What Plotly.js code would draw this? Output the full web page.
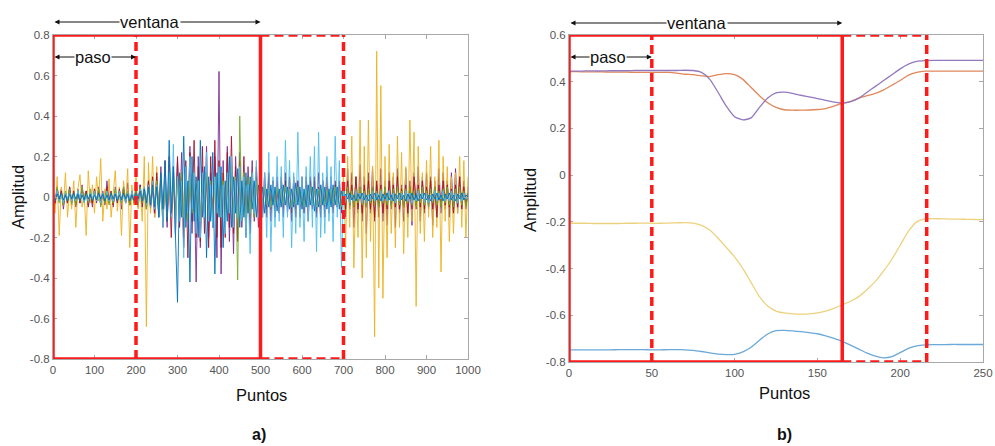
<!DOCTYPE html>
<html>
<head>
<meta charset="utf-8">
<script src="https://cdn.plot.ly/plotly-3.0.1.min.js"></script>
<style>html,body{margin:0;padding:0;background:#fff;}#chart{width:995px;height:446px;}</style>
</head>
<body>
<div id="chart"></div>
<script>
// ---------- Panel a) : raw signals, one value every 5 points (0..1000) ----------
const stepA = 5;
const sigYellow = [
 0.02,-0.08,0.1,-0.19,0.05,-0.04,0.12,-0.1,0.03,-0.06,
 0.08,-0.15,0.04,0.11,-0.05,0.02,-0.19,0.13,-0.03,0.06,
 -0.08,0.1,-0.02,0.19,-0.12,0.04,-0.06,0.09,-0.1,0.03,
 0.13,-0.07,0.05,-0.19,0.08,-0.03,0.14,-0.25,0.06,-0.04,
 0.1,-0.06,0.03,-0.12,0.2,-0.64,0.17,-0.08,0.2,-0.1,
 0.15,-0.09,0.07,-0.12,0.05,-0.08,0.1,-0.05,0.08,-0.1,
 0.06,-0.07,0.12,-0.04,0.08,-0.11,0.05,-0.06,0.09,-0.03,
 0.07,-0.1,0.04,-0.06,0.1,-0.08,0.05,-0.04,0.08,-0.09,
 0.06,-0.05,0.12,-0.1,0.04,-0.07,0.09,-0.05,0.06,-0.08,
 0.05,-0.06,0.08,-0.04,0.07,-0.1,0.05,-0.03,0.06,-0.05,
 0.04,-0.03,0.05,-0.04,0.03,-0.05,0.04,-0.02,0.05,-0.03,
 0.03,-0.04,0.06,-0.03,0.04,-0.05,0.03,-0.04,0.05,-0.03,
 0.04,-0.05,0.03,-0.04,0.06,-0.03,0.04,-0.05,0.03,-0.04,
 0.05,-0.03,0.04,-0.06,0.03,-0.04,0.05,-0.03,0.04,-0.05,
 0.12,-0.25,0.2,-0.15,0.3,-0.35,0.1,-0.2,0.38,-0.4,
 0.25,-0.3,0.38,-0.22,0.15,-0.69,0.72,-0.45,0.55,-0.5,
 0.2,-0.3,0.26,-0.18,0.12,-0.25,0.3,-0.15,0.22,-0.28,
 0.15,-0.2,0.38,-0.12,0.32,-0.54,0.25,-0.18,0.12,-0.22,
 0.18,-0.1,0.25,-0.2,0.1,-0.15,0.28,-0.37,0.2,-0.12,
 0.15,-0.22,0.1,-0.18,0.12,-0.08,0.2,-0.15,0.18,-0.2,
 0.1];
const sigPurple = [
 0.03,-0.04,0.05,-0.02,0.04,-0.06,0.02,-0.03,0.05,-0.04,
 0.02,-0.05,0.04,-0.03,0.06,-0.02,0.03,-0.04,0.02,-0.05,
 0.04,-0.03,0.05,-0.02,0.03,-0.04,0.08,-0.03,0.02,-0.05,
 0.05,-0.02,0.03,-0.06,0.04,-0.03,0.07,-0.04,0.02,-0.03,
 0.04,-0.05,0.06,-0.03,0.05,-0.04,0.08,-0.06,0.04,-0.1,
 0.1,-0.08,0.15,-0.12,0.08,-0.15,0.2,-0.1,0.12,-0.18,
 0.18,-0.1,0.22,-0.2,0.15,-0.12,0.25,-0.18,0.1,-0.42,
 0.2,-0.25,0.15,-0.1,0.25,-0.2,0.12,-0.15,0.2,-0.3,
 0.62,-0.38,0.18,-0.15,0.25,-0.22,0.12,-0.28,0.2,-0.1,
 0.22,-0.15,0.1,-0.2,0.15,-0.08,0.18,-0.12,0.1,-0.15,
 0.08,-0.1,0.12,-0.06,0.1,-0.12,0.08,-0.05,0.1,-0.08,
 0.06,-0.1,0.12,-0.08,0.05,-0.12,0.1,-0.06,0.08,-0.1,
 0.1,-0.08,0.06,-0.12,0.1,-0.05,0.08,-0.1,0.12,-0.06,
 0.08,-0.1,0.05,-0.08,0.1,-0.06,0.08,-0.05,0.06,-0.08,
 0.08,-0.1,0.14,-0.06,0.12,-0.15,0.1,-0.08,0.16,-0.12,
 0.1,-0.18,0.12,-0.08,0.15,-0.12,0.06,-0.1,0.14,-0.12,
 0.08,-0.14,0.12,-0.06,0.1,-0.15,0.14,-0.08,0.06,-0.12,
 0.14,-0.1,0.08,-0.14,0.12,-0.06,0.15,-0.12,0.1,-0.08,
 0.12,-0.06,0.1,-0.14,0.08,-0.1,0.14,-0.08,0.12,-0.06,
 0.08,-0.1,0.12,-0.06,0.14,-0.08,0.1,-0.05,0.08,-0.06,
 0.05];
const sigRed = [
 0.02,-0.03,0.04,-0.02,0.03,-0.04,0.02,-0.03,0.05,-0.02,
 0.03,-0.04,0.02,-0.03,0.04,-0.02,0.03,-0.05,0.02,-0.03,
 0.04,-0.02,0.03,-0.04,0.02,-0.03,0.05,-0.02,0.03,-0.04,
 0.02,-0.03,0.04,-0.02,0.05,-0.03,0.02,-0.04,0.03,-0.02,
 0.04,-0.03,0.06,-0.05,0.04,-0.06,0.08,-0.05,0.1,-0.08,
 0.12,-0.1,0.08,-0.15,0.18,-0.12,0.1,-0.2,0.15,-0.1,
 0.2,-0.15,0.12,-0.25,0.18,-0.3,0.22,-0.12,0.28,-0.2,
 0.15,-0.22,0.25,-0.18,0.12,-0.25,0.2,-0.15,0.28,-0.2,
 0.18,-0.25,0.12,-0.2,0.22,-0.15,0.3,-0.18,0.15,-0.22,
 0.18,-0.12,0.2,-0.15,0.1,-0.18,0.12,-0.1,0.15,-0.08,
 0.1,-0.08,0.06,-0.1,0.12,-0.06,0.08,-0.1,0.05,-0.08,
 0.1,-0.06,0.08,-0.05,0.1,-0.08,0.06,-0.1,0.08,-0.05,
 0.06,-0.08,0.1,-0.05,0.08,-0.06,0.1,-0.08,0.05,-0.1,
 0.08,-0.05,0.1,-0.06,0.05,-0.08,0.06,-0.05,0.08,-0.06,
 0.05,-0.06,0.08,-0.04,0.06,-0.05,0.1,-0.06,0.05,-0.08,
 0.06,-0.05,0.08,-0.06,0.05,-0.1,0.08,-0.05,0.06,-0.08,
 0.05,-0.06,0.08,-0.04,0.06,-0.05,0.1,-0.06,0.04,-0.05,
 0.06,-0.08,0.05,-0.06,0.1,-0.04,0.06,-0.05,0.08,-0.06,
 0.05,-0.04,0.08,-0.06,0.05,-0.1,0.06,-0.05,0.08,-0.04,
 0.06,-0.05,0.04,-0.08,0.06,-0.05,0.1,-0.06,0.05,-0.04,
 0.02];
const sigGreen = [
 0.03,-0.02,0.05,-0.03,0.02,-0.04,0.03,-0.02,0.04,-0.03,
 0.02,-0.04,0.03,-0.02,0.05,-0.03,0.02,-0.03,0.04,-0.02,
 0.03,-0.02,0.04,-0.05,0.02,-0.03,0.03,-0.04,0.02,-0.03,
 0.04,-0.02,0.03,-0.03,0.05,-0.02,0.03,-0.04,0.02,-0.03,
 0.03,-0.04,0.05,-0.03,0.04,-0.06,0.05,-0.04,0.06,-0.05,
 0.08,-0.06,0.1,-0.08,0.06,-0.1,0.12,-0.07,0.09,-0.1,
 0.1,-0.08,0.12,-0.1,0.08,-0.12,0.1,-0.08,0.12,-0.1,
 0.08,-0.12,0.1,-0.06,0.12,-0.1,0.08,-0.12,0.1,-0.08,
 0.12,-0.1,0.08,-0.12,0.1,-0.08,0.15,-0.12,0.1,-0.41,
 0.4,-0.1,0.12,-0.15,0.1,-0.08,0.12,-0.1,0.08,-0.06,
 0.05,-0.04,0.06,-0.03,0.04,-0.05,0.03,-0.04,0.05,-0.03,
 0.04,-0.03,0.05,-0.04,0.03,-0.05,0.04,-0.03,0.05,-0.04,
 0.03,-0.05,0.04,-0.03,0.05,-0.04,0.03,-0.05,0.04,-0.03,
 0.05,-0.04,0.03,-0.05,0.04,-0.03,0.05,-0.04,0.03,-0.05,
 0.04,-0.03,0.05,-0.04,0.03,-0.05,0.04,-0.03,0.05,-0.04,
 0.03,-0.05,0.04,-0.03,0.05,-0.04,0.03,-0.05,0.04,-0.03,
 0.05,-0.04,0.03,-0.05,0.04,-0.03,0.05,-0.04,0.03,-0.05,
 0.04,-0.03,0.05,-0.04,0.03,-0.05,0.04,-0.03,0.05,-0.04,
 0.03,-0.05,0.04,-0.03,0.05,-0.04,0.03,-0.05,0.04,-0.03,
 0.05,-0.04,0.03,-0.05,0.04,-0.03,0.05,-0.04,0.03,-0.05,
 0.02];
const sigCyan = [
 0.02,-0.01,0.03,-0.02,0.01,-0.03,0.02,-0.01,0.02,-0.02,
 0.01,-0.02,0.03,-0.01,0.02,-0.03,0.01,-0.02,0.02,-0.01,
 0.03,-0.02,0.01,-0.03,0.02,-0.01,0.03,-0.02,0.01,-0.02,
 0.02,-0.01,0.03,-0.02,0.01,-0.03,0.02,-0.02,0.03,-0.01,
 0.02,-0.03,0.04,-0.02,0.05,-0.04,0.06,-0.05,0.08,-0.06,
 0.06,-0.1,0.05,-0.15,0.1,-0.06,0.12,-0.1,0.26,-0.2,
 0.1,-0.12,0.08,-0.3,0.15,-0.08,0.2,-0.06,0.12,-0.18,
 0.08,-0.2,0.12,-0.1,0.22,-0.12,0.06,-0.15,0.1,-0.08,
 0.15,-0.1,0.06,-0.18,0.12,-0.08,0.2,-0.15,0.08,-0.1,
 0.15,-0.12,0.1,-0.2,0.06,-0.28,0.12,-0.08,0.18,-0.1,
 0.15,-0.1,0.12,-0.2,0.22,-0.27,0.1,-0.15,0.2,-0.12,
 0.15,-0.2,0.28,-0.1,0.18,-0.25,0.12,-0.18,0.32,-0.15,
 0.1,-0.22,0.15,-0.12,0.2,-0.15,0.25,-0.27,0.32,-0.2,
 0.12,-0.18,0.2,-0.12,0.15,-0.22,0.3,-0.1,0.18,-0.35,
 0.03,-0.02,0.02,-0.03,0.01,-0.02,0.03,-0.01,0.02,-0.03,
 0.02,-0.03,0.01,-0.02,0.03,-0.02,0.02,-0.01,0.03,-0.02,
 0.01,-0.02,0.03,-0.02,0.02,-0.03,0.01,-0.02,0.02,-0.01,
 0.03,-0.02,0.02,-0.03,0.01,-0.02,0.03,-0.01,0.02,-0.03,
 0.02,-0.03,0.01,-0.02,0.03,-0.02,0.02,-0.01,0.03,-0.02,
 0.01,-0.02,0.03,-0.02,0.02,-0.03,0.01,-0.02,0.02,-0.01,
 0];
const sigBlue = [
 0.01,-0.02,0.015,-0.01,0.02,-0.015,0.01,-0.02,0.015,-0.01,
 0.02,-0.01,0.015,-0.02,0.01,-0.015,0.02,-0.01,0.015,-0.02,
 0.01,-0.015,0.02,-0.01,0.015,-0.02,0.01,-0.015,0.02,-0.01,
 0.015,-0.02,0.01,-0.015,0.02,-0.01,0.015,-0.02,0.01,-0.015,
 0.02,-0.01,0.03,-0.02,0.04,-0.03,0.05,-0.04,0.06,-0.05,
 0.05,-0.1,0.12,-0.06,0.18,-0.12,0.28,-0.08,0.15,-0.22,
 -0.52,0.12,-0.1,0.3,-0.15,0.08,-0.42,0.2,-0.12,0.1,
 -0.2,0.28,-0.1,0.15,-0.3,0.1,-0.12,0.22,-0.38,0.12,
 -0.1,0.15,-0.25,0.08,-0.12,0.2,-0.15,0.1,-0.08,0.14,
 -0.15,0.08,-0.1,0.12,-0.08,0.1,-0.06,0.08,-0.1,0.06,
 -0.06,0.05,-0.08,0.04,-0.05,0.06,-0.04,0.05,-0.07,0.04,
 -0.05,0.06,-0.04,0.05,-0.06,0.04,-0.05,0.07,-0.04,0.05,
 -0.06,0.04,-0.05,0.06,-0.04,0.05,-0.07,0.04,-0.05,0.06,
 -0.04,0.05,-0.06,0.04,-0.05,0.06,-0.04,0.05,-0.06,0.03,
 -0.02,0.015,-0.01,0.02,-0.015,0.01,-0.02,0.015,-0.01,0.02,
 -0.015,0.01,-0.02,0.015,-0.01,0.02,-0.015,0.01,-0.02,0.015,
 -0.01,0.02,-0.015,0.01,-0.02,0.015,-0.01,0.02,-0.015,0.01,
 -0.02,0.015,-0.01,0.02,-0.015,0.01,-0.02,0.015,-0.01,0.02,
 -0.015,0.01,-0.02,0.015,-0.01,0.02,-0.015,0.01,-0.02,0.015,
 -0.01,0.02,-0.015,0.01,-0.02,0.015,-0.01,0.02,-0.015,0.01,
 0];

// ---------- Panel b) : smoothed features, one value every 5 points (0..250) ----------
const stepB = 5;
const featPurple = [
 0.445,0.445,0.446,0.446,0.446,0.447,0.447,0.447,0.448,0.448,
 0.448,0.448,0.448,0.448,0.449,0.448,0.44,0.41,0.355,0.295,
 0.25,0.237,0.245,0.29,0.33,0.352,0.355,0.35,0.342,0.335,
 0.328,0.32,0.313,0.308,0.315,0.33,0.355,0.38,0.405,0.43,
 0.455,0.475,0.487,0.49,0.491,0.491,0.491,0.491,0.491,0.491,
 0.491];
const featOrange = [
 0.443,0.443,0.442,0.442,0.442,0.441,0.441,0.441,0.44,0.44,
 0.44,0.44,0.44,0.437,0.432,0.43,0.425,0.422,0.43,0.435,
 0.43,0.41,0.375,0.34,0.31,0.29,0.28,0.278,0.278,0.279,
 0.281,0.285,0.295,0.308,0.315,0.33,0.34,0.35,0.365,0.385,
 0.405,0.428,0.44,0.445,0.445,0.445,0.445,0.445,0.445,0.445,
 0.445];
const featYellow = [
 -0.205,-0.206,-0.206,-0.207,-0.207,-0.207,-0.207,-0.206,-0.206,-0.205,
 -0.206,-0.206,-0.205,-0.204,-0.203,-0.205,-0.215,-0.235,-0.27,-0.31,
 -0.35,-0.4,-0.46,-0.52,-0.56,-0.582,-0.59,-0.594,-0.595,-0.594,
 -0.59,-0.582,-0.57,-0.555,-0.54,-0.52,-0.49,-0.455,-0.41,-0.36,
 -0.3,-0.24,-0.2,-0.187,-0.186,-0.187,-0.188,-0.188,-0.189,-0.19,
 -0.19];
const featBlue = [
 -0.748,-0.748,-0.748,-0.748,-0.748,-0.748,-0.747,-0.747,-0.747,-0.747,
 -0.748,-0.748,-0.747,-0.747,-0.748,-0.75,-0.755,-0.761,-0.766,-0.768,
 -0.767,-0.757,-0.737,-0.707,-0.68,-0.666,-0.665,-0.667,-0.67,-0.674,
 -0.679,-0.688,-0.699,-0.712,-0.728,-0.745,-0.762,-0.775,-0.782,-0.777,
 -0.76,-0.742,-0.731,-0.727,-0.726,-0.726,-0.725,-0.725,-0.725,-0.725,
 -0.725];

// tick labels
const xTicksA = [0,100,200,300,400,500,600,700,800,900,1000];
const yTicksA = [-0.8,-0.6,-0.4,-0.2,0,0.2,0.4,0.6,0.8];
const yTextA = ['-0.8','-0.6','-0.4','-0.2','0','0.2','0.4','0.6','0.8'];
const xTicksB = [0,50,100,150,200,250];
const yTicksB = [-0.8,-0.6,-0.4,-0.2,0,0.2,0.4,0.6];
const yTextB = ['-0.8','-0.6','-0.4','-0.2','0','0.2','0.4','0.6'];

// window markers (data units)
const winA = {start:0, step:200, end:500, next:700, ymin:-0.8, ymax:0.8};
const winB = {start:0, step:50, end:165, next:216, ymin:-0.8, ymax:0.6};

const xs = (arr, st) => arr.map((_, i) => i * st);

const colA = {y:'#EDB120', p:'#7E2F8E', r:'#A2142F', g:'#77AC30', c:'#4DBEEE', b:'#0072BD'};
const tracesA = [
  [sigPurple, colA.p], [sigYellow, colA.y], [sigRed, colA.r],
  [sigGreen, colA.g], [sigCyan, colA.c], [sigBlue, colA.b]
].map(([v, c]) => ({
  x: xs(v, stepA), y: v, type: 'scatter', mode: 'lines',
  line: {color: c, width: 1}, opacity: 0.9, xaxis: 'x', yaxis: 'y', hoverinfo: 'skip'
}));

const tracesB = [
  [featBlue, '#6aa9d8'], [featOrange, '#e0875c'], [featYellow, '#ecd27e'], [featPurple, '#9478bd']
].map(([v, c]) => ({
  x: xs(v, stepB), y: v, type: 'scatter', mode: 'lines',
  line: {color: c, width: 1.3, shape: 'spline', smoothing: 0.6}, xaxis: 'x2', yaxis: 'y2', hoverinfo: 'skip'
}));

const RED = '#ff1a1a';
function windowShapes(w, xr, yr) {
  const solid = {color: RED, width: 3.5};
  const dashed = {color: RED, width: 3.5, dash: '9px,5px'};
  return [
    {type:'rect', xref:xr, yref:yr, x0:w.start, x1:w.end, y0:w.ymin, y1:w.ymax, line:solid},
    {type:'line', xref:xr, yref:yr, x0:w.step, x1:w.step, y0:w.ymin, y1:w.ymax, line:dashed},
    {type:'line', xref:xr, yref:yr, x0:w.end, x1:w.next, y0:w.ymax, y1:w.ymax, line:dashed},
    {type:'line', xref:xr, yref:yr, x0:w.end, x1:w.next, y0:w.ymin, y1:w.ymin, line:dashed},
    {type:'line', xref:xr, yref:yr, x0:w.next, x1:w.next, y0:w.ymin, y1:w.ymax, line:dashed}
  ];
}

function arrowAnn(xr, x0, x1, ypaper, label, labelX) {
  return [
    {xref:xr, yref:'paper', x:x1, y:ypaper, axref:xr, ayref:'pixel', ax:x0, ay:0,
     text:'', showarrow:true, arrowhead:2, startarrowhead:2, arrowside:'end+start',
     arrowsize:1, startarrowsize:1, arrowwidth:1, arrowcolor:'#111', standoff:0, startstandoff:0},
    {xref:xr, yref:'paper', x:labelX, y:ypaper, text:label, showarrow:false,
     bgcolor:'#ffffff', borderpad:0, font:{size:16.5, color:'#111'}, xanchor:'center', yanchor:'middle'}
  ];
}

const axisCommon = {
  showgrid:false, zeroline:false, showline:true, mirror:'ticks',
  linecolor:'#a8a8a8', linewidth:1, ticks:'inside', ticklen:4, tickcolor:'#a8a8a8',
  tickfont:{size:11.5, color:'#555'}
};

const H = 446, W = 995;
function label(x, y, text, size, angle) {
  return {xref:'paper', yref:'paper', x:x/W, y:1-y/H, text:text, textangle:angle||0,
          showarrow:false, xanchor:'center', yanchor:'middle', font:{size:size, color:'#111'}};
}
const layout = {
  width: W, height: H,
  margin: {l:0, r:0, t:0, b:0},
  paper_bgcolor:'#fff', plot_bgcolor:'#fff',
  showlegend:false,
  font:{family:'Liberation Sans, Arial, sans-serif', color:'#111'},
  xaxis: Object.assign({}, axisCommon, {domain:[53/W, 468/W], range:[0,1000], tickvals:xTicksA, anchor:'y'}),
  yaxis: Object.assign({}, axisCommon, {domain:[1-359/H, 1-35/H], range:[-0.8,0.8], tickvals:yTicksA, ticktext:yTextA, anchor:'x'}),
  xaxis2: Object.assign({}, axisCommon, {domain:[569/W, 983/W], range:[0,250], tickvals:xTicksB, anchor:'y2'}),
  yaxis2: Object.assign({}, axisCommon, {domain:[1-362/H, 1-35/H], range:[-0.8,0.6], tickvals:yTicksB, ticktext:yTextB, anchor:'x2'}),
  shapes: windowShapes(winA, 'x', 'y').concat(windowShapes(winB, 'x2', 'y2')),
  annotations: [].concat(
    arrowAnn('x', winA.start, winA.end, 1-22/H, 'ventana', 234),
    arrowAnn('x', winA.start, winA.step, 1-57/H, 'paso', 96),
    arrowAnn('x2', winB.start, winB.end, 1-23/H, 'ventana', 77),
    arrowAnn('x2', winB.start, winB.step, 1-57/H, 'paso', 23.5),
    [
      label(18, 197, 'Amplitud', 16.5, -90),
      label(530, 200, 'Amplitud', 16.5, -90),
      label(261, 395, 'Puntos', 16.5),
      label(784, 393, 'Puntos', 16.5),
      label(259, 434, '<b>a)</b>', 16),
      label(784, 434, '<b>b)</b>', 16)
    ]
  )
};

Plotly.newPlot('chart', tracesA.concat(tracesB), layout, {staticPlot:true, displayModeBar:false});
</script>
</body>
</html>
